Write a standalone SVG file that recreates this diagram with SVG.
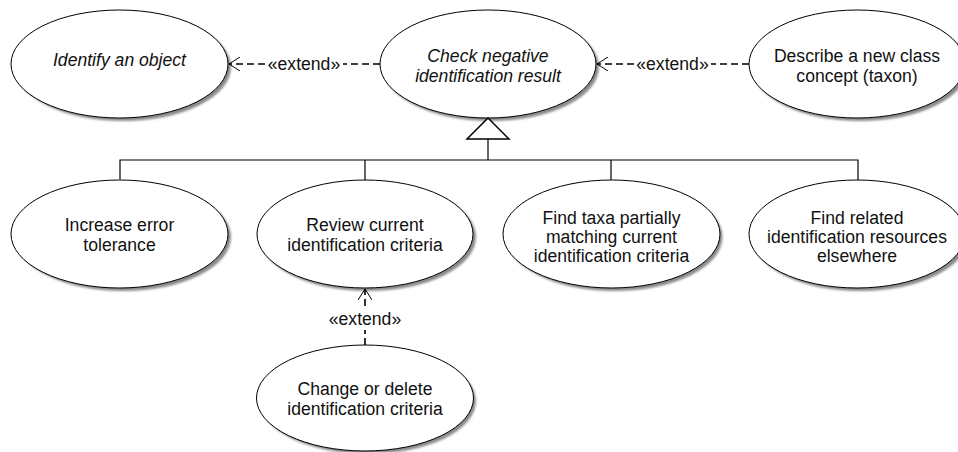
<svg xmlns="http://www.w3.org/2000/svg" width="958" height="452" viewBox="0 0 958 452">
<defs>
<filter id="blur" x="-10%" y="-10%" width="120%" height="120%"><feGaussianBlur stdDeviation="1.3"/></filter>
<marker id="open" viewBox="0 0 12 14" refX="11" refY="7" markerWidth="12" markerHeight="14" markerUnits="userSpaceOnUse" orient="auto">
<path d="M0,0 L11,7 L0,14" fill="none" stroke="#000" stroke-width="1"/>
</marker>
</defs>
<style>
.sh{fill:#8a8a8a;filter:url(#blur)}
.uc{fill:#fff;stroke:#000;stroke-width:1}
text{font-family:"Liberation Sans",Arial,sans-serif;font-size:17.6px;fill:#111;text-anchor:middle}
.it{font-style:italic}
.dash{fill:none;stroke:#000;stroke-width:1.6;stroke-dasharray:7,4}
.ln{fill:none;stroke:#000;stroke-width:1.2}
</style>
<g id="identify">
<ellipse class="sh" cx="123" cy="67" rx="108" ry="54"/>
<ellipse class="uc" cx="119.5" cy="64" rx="108.5" ry="54"/>
<text class="it" x="119.5" y="66">Identify an object</text>
</g>
<g id="check">
<ellipse class="sh" cx="491" cy="67" rx="108" ry="54"/>
<ellipse class="uc" cx="488" cy="64" rx="108" ry="54"/>
<text class="it" x="488" y="62">Check negative</text>
<text class="it" x="488" y="82">identification result</text>
</g>
<g id="describe">
<ellipse class="sh" cx="860" cy="67" rx="108" ry="54"/>
<ellipse class="uc" cx="857" cy="64" rx="108" ry="54"/>
<text x="857" y="62">Describe a new class</text>
<text x="857" y="82">concept (taxon)</text>
</g>
<g id="increase">
<ellipse class="sh" cx="123" cy="237" rx="108" ry="54"/>
<ellipse class="uc" cx="119.5" cy="234" rx="108.5" ry="54"/>
<text x="119.5" y="231">Increase error</text>
<text x="119.5" y="251">tolerance</text>
</g>
<g id="review">
<ellipse class="sh" cx="368" cy="237" rx="108" ry="54"/>
<ellipse class="uc" cx="365" cy="234" rx="108" ry="54"/>
<text x="365" y="231">Review current</text>
<text x="365" y="251">identification criteria</text>
</g>
<g id="findtaxa">
<ellipse class="sh" cx="614.5" cy="237" rx="108" ry="54"/>
<ellipse class="uc" cx="611.5" cy="234" rx="108.5" ry="54"/>
<text x="611.5" y="224">Find taxa partially</text>
<text x="611.5" y="243">matching current</text>
<text x="611.5" y="262">identification criteria</text>
</g>
<g id="findrelated">
<ellipse class="sh" cx="860" cy="237" rx="108" ry="54"/>
<ellipse class="uc" cx="857" cy="234" rx="108" ry="54"/>
<text x="857" y="224">Find related</text>
<text x="857" y="243">identification resources</text>
<text x="857" y="262">elsewhere</text>
</g>
<g id="change">
<ellipse class="sh" cx="368" cy="401" rx="108" ry="53"/>
<ellipse class="uc" cx="365" cy="398" rx="108.5" ry="53"/>
<text x="365" y="395">Change or delete</text>
<text x="365" y="415">identification criteria</text>
</g>
<g id="connectors">
<path class="ln" d="M120,179.5 V160 H858 V180 M365,160 V180 M611,160 V180 M488,160 V139"/>
<path d="M488,118 L467,139 H509 Z" fill="#fff" stroke="#000" stroke-width="1.5"/>
<line class="dash" x1="265" y1="64" x2="229" y2="64" marker-end="url(#open)"/>
<line class="dash" x1="380" y1="64" x2="343" y2="64"/>
<text x="304" y="70">«extend»</text>
<line class="dash" x1="634" y1="64" x2="597" y2="64" marker-end="url(#open)"/>
<line class="dash" x1="749" y1="64" x2="711" y2="64"/>
<text x="672.5" y="70">«extend»</text>
<line class="dash" x1="365" y1="306" x2="365" y2="289" marker-end="url(#open)"/>
<line class="dash" x1="365" y1="345" x2="365" y2="330"/>
<text x="365" y="325">«extend»</text>
</g>
</svg>
